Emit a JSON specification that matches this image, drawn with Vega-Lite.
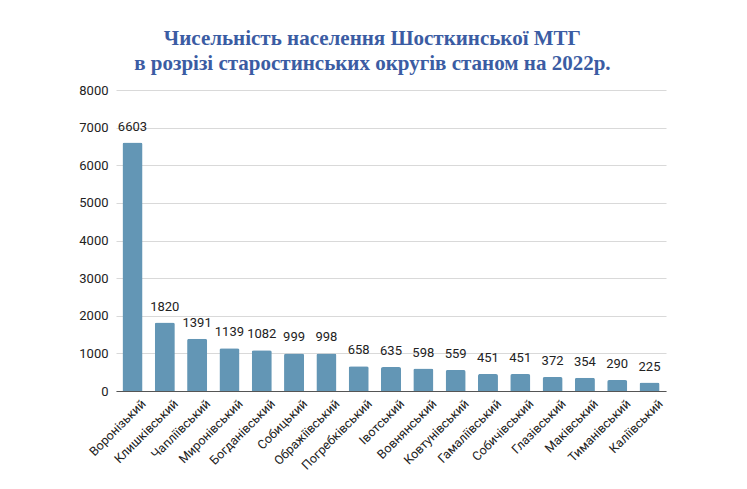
{
  "$schema": "https://vega.github.io/schema/vega-lite/v6.json",
  "width": 550,
  "height": 301,
  "padding": {"left": 78, "top": 28, "right": 5, "bottom": 5},
  "background": "white",
  "title": {
    "text": ["Чисельність населення Шосткинської МТГ", "в розрізі старостинських округів  станом на 2022р."],
    "font": "Liberation Serif",
    "fontSize": 21,
    "fontWeight": "bold",
    "color": "#3b5ca3",
    "lineHeight": 25,
    "anchor": "middle",
    "frame": "bounds",
    "offset": 10
  },
  "data": {
    "values": [
      {"okrug": "Воронізький", "n": 6603},
      {"okrug": "Клишківський", "n": 1820},
      {"okrug": "Чапліївський", "n": 1391},
      {"okrug": "Миронівський", "n": 1139},
      {"okrug": "Богданівський", "n": 1082},
      {"okrug": "Собицький", "n": 999},
      {"okrug": "Ображіївський", "n": 998},
      {"okrug": "Погребківський", "n": 658},
      {"okrug": "Івотський", "n": 635},
      {"okrug": "Вовнянський", "n": 598},
      {"okrug": "Ковтунівський", "n": 559},
      {"okrug": "Гамаліївський", "n": 451},
      {"okrug": "Собичівський", "n": 451},
      {"okrug": "Глазівський", "n": 372},
      {"okrug": "Маківський", "n": 354},
      {"okrug": "Тиманівський", "n": 290},
      {"okrug": "Каліївський", "n": 225}
    ]
  },
  "config": {
    "view": {"stroke": null},
    "font": "Roboto"
  },
  "encoding": {
    "x": {
      "field": "okrug",
      "type": "nominal",
      "sort": null,
      "title": null,
      "scale": {"paddingInner": 0.38, "paddingOuter": 0.2},
      "axis": {
        "labelAngle": -45,
        "labelFont": "Roboto",
        "labelFontSize": 12.5,
        "labelColor": "#222222",
        "ticks": false,
        "domainColor": "#555555",
        "domainWidth": 1.2,
        "labelPadding": 6,
        "labelOffset": 7
      }
    },
    "y": {
      "field": "n",
      "type": "quantitative",
      "title": null,
      "scale": {"domain": [0, 8000]},
      "axis": {
        "values": [0, 1000, 2000, 3000, 4000, 5000, 6000, 7000, 8000],
        "labelFont": "Roboto",
        "labelFontSize": 13,
        "labelColor": "#222222",
        "ticks": false,
        "domain": false,
        "gridColor": "#d9d9d9",
        "gridWidth": 1,
        "labelPadding": 8,
        "format": "d"
      }
    }
  },
  "layer": [
    {
      "mark": {"type": "bar", "color": "#6396b5", "cornerRadiusTopLeft": 2, "cornerRadiusTopRight": 2}
    },
    {
      "mark": {"type": "text", "baseline": "bottom", "dy": -9, "font": "Roboto", "fontSize": 13, "color": "#222222"},
      "encoding": {"text": {"field": "n", "type": "quantitative", "format": "d"}}
    }
  ]
}
